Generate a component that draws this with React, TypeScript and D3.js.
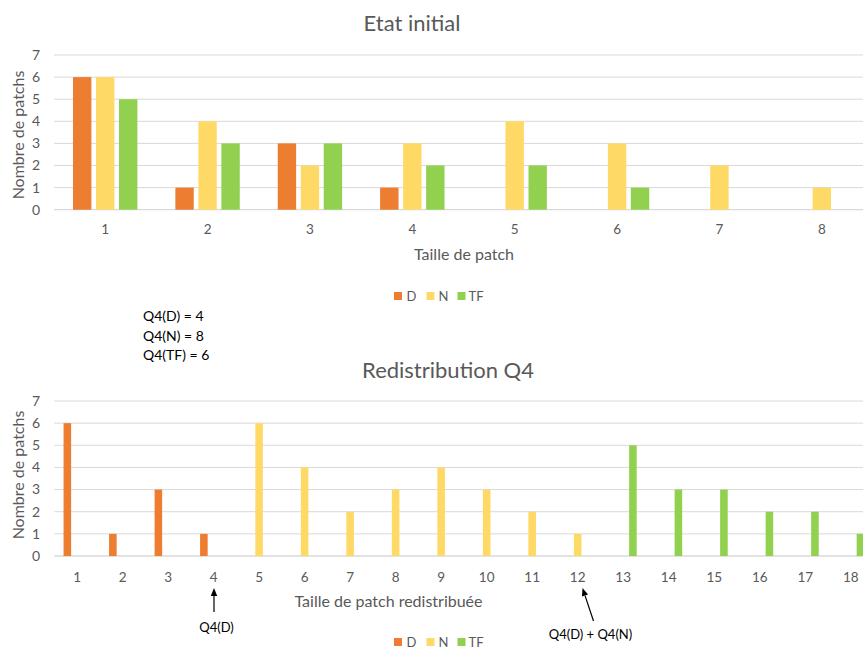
import React from 'react';
import * as d3 from 'd3';

// Series shared by both panels
const seriesNames = ['D', 'N', 'TF'];
const seriesColors = ['#ED7D31', '#FFD966', '#92D050'];

// Panel 1: initial state
const initialSizes = ['1', '2', '3', '4', '5', '6', '7', '8'];
const initialD = [6, 1, 3, 1, 0, 0, 0, 0];
const initialN = [6, 4, 2, 3, 4, 3, 2, 1];
const initialTF = [5, 3, 3, 2, 2, 1, 0, 0];

// Panel 2: Q4 redistribution
const redistSizes = ['1', '2', '3', '4', '5', '6', '7', '8', '9', '10', '11', '12', '13', '14', '15', '16', '17', '18'];
const redistD = [6, 1, 3, 1, 0, 0, 0, 0, 0, 0, 0, 0, 0, 0, 0, 0, 0, 0];
const redistN = [0, 0, 0, 0, 6, 4, 2, 3, 4, 3, 2, 1, 0, 0, 0, 0, 0, 0];
const redistTF = [0, 0, 0, 0, 0, 0, 0, 0, 0, 0, 0, 0, 5, 3, 3, 2, 2, 1];

const yTicks = [0, 1, 2, 3, 4, 5, 6, 7];
const q4Lines = ['Q4(D) = 4', 'Q4(N) = 8', 'Q4(TF) = 6'];

const FONT = 'Lato, "Open Sans", sans-serif';
const AXIS_GRAY = '#595959';
const GRID = '#D9D9D9';

type PanelProps = {
  categories: string[];
  series: number[][];
  top: number;
  bottom: number;
  left: number;
  right: number;
  groupFrac: number;
  barPad: number;
  title: string;
  titleX: number;
  titleY: number;
  xTitle: string;
  xTitleX: number;
  xTitleY: number;
  xLabelY: number;
  yTitleY: number;
  legendY: number;
};

function Legend({ y }: { y: number }) {
  const items = [
    { sq: 394, tx: 406.5 },
    { sq: 426.5, tx: 438.5 },
    { sq: 457.5, tx: 468.5 },
  ];
  return (
    <g>
      {seriesNames.map((name, i) => (
        <g key={name}>
          <rect x={items[i].sq} y={y - 4} width={8} height={8} fill={seriesColors[i]} />
          <text x={items[i].tx} y={y} dy="0.35em" fontSize={13} fill={AXIS_GRAY} fontFamily={FONT}>
            {name}
          </text>
        </g>
      ))}
    </g>
  );
}

function BarPanel(p: PanelProps) {
  const x0 = d3.scaleBand<string>().domain(p.categories).range([p.left, p.right]).padding(0);
  const groupW = x0.bandwidth() * p.groupFrac;
  const x1 = d3
    .scaleBand<string>()
    .domain(seriesNames)
    .range([-groupW / 2, groupW / 2])
    .paddingInner(p.barPad)
    .paddingOuter(p.barPad / 2);
  const y = d3.scaleLinear().domain([0, 7]).range([p.bottom, p.top]);

  return (
    <g>
      <text
        x={p.titleX}
        y={p.titleY}
        dy="0.35em"
        textAnchor="middle"
        fontSize={22}
        fill={AXIS_GRAY}
        fontFamily={FONT}
      >
        {p.title}
      </text>
      {yTicks.map((t) => (
        <g key={t}>
          <line x1={p.left} x2={p.right} y1={y(t)} y2={y(t)} stroke={GRID} strokeWidth={t === 0 ? 1.3 : 1} />
          <text
            x={40}
            y={y(t)}
            dy="0.35em"
            textAnchor="end"
            fontSize={14}
            fill={AXIS_GRAY}
            fontFamily={FONT}
          >
            {t}
          </text>
        </g>
      ))}
      {p.categories.map((c, ci) => {
        const cx = (x0(c) as number) + x0.bandwidth() / 2;
        return (
          <g key={c}>
            {p.series.map((vals, si) => {
              const v = vals[ci];
              if (!v) return null;
              return (
                <rect
                  key={si}
                  x={cx + (x1(seriesNames[si]) as number)}
                  y={y(v)}
                  width={x1.bandwidth()}
                  height={y(0) - y(v)}
                  fill={seriesColors[si]}
                />
              );
            })}
            <text
              x={cx}
              y={p.xLabelY}
              dy="0.35em"
              textAnchor="middle"
              fontSize={13.5}
              fill={AXIS_GRAY}
              fontFamily={FONT}
            >
              {c}
            </text>
          </g>
        );
      })}
      <text
        x={p.xTitleX}
        y={p.xTitleY}
        dy="0.35em"
        textAnchor="middle"
        fontSize={16}
        fill={AXIS_GRAY}
        fontFamily={FONT}
      >
        {p.xTitle}
      </text>
      <text
        transform={`translate(18,${p.yTitleY}) rotate(-90)`}
        dy="0.35em"
        textAnchor="middle"
        fontSize={16}
        fill={AXIS_GRAY}
        fontFamily={FONT}
      >
        Nombre de patchs
      </text>
      <Legend y={p.legendY} />
    </g>
  );
}

function Arrow({ x1, y1, x2, y2 }: { x1: number; y1: number; x2: number; y2: number }) {
  const ang = Math.atan2(y2 - y1, x2 - x1);
  const len = 8;
  const half = 3.2;
  const bx = x2 - len * Math.cos(ang);
  const by = y2 - len * Math.sin(ang);
  const px = -Math.sin(ang) * half;
  const py = Math.cos(ang) * half;
  return (
    <g>
      <line x1={x1} y1={y1} x2={bx} y2={by} stroke="#000" strokeWidth={1.2} />
      <path d={`M${x2},${y2}L${bx + px},${by + py}L${bx - px},${by - py}Z`} fill="#000" />
    </g>
  );
}

export default function App() {
  return (
    <svg
      width={863}
      height={651}
      style={{ position: 'absolute', left: 0, top: 0, background: '#fff' }}
    >
      <rect width={863} height={651} fill="#fff" />
      <BarPanel
        categories={initialSizes}
        series={[initialD, initialN, initialTF]}
        top={55}
        bottom={209.7}
        left={54}
        right={873}
        groupFrac={0.674}
        barPad={0.2}
        title="Etat initial"
        titleX={412}
        titleY={23}
        xTitle="Taille de patch"
        xTitleX={464}
        xTitleY={254}
        xLabelY={229}
        yTitleY={135}
        legendY={296}
      />
      <BarPanel
        categories={redistSizes}
        series={[redistD, redistN, redistTF]}
        top={401}
        bottom={556}
        left={54.3}
        right={873.5}
        groupFrac={0.64}
        barPad={0.22}
        title="Redistribution Q4"
        titleX={448}
        titleY={370.5}
        xTitle="Taille de patch redistribuée"
        xTitleX={388.5}
        xTitleY={601.5}
        xLabelY={577.5}
        yTitleY={475}
        legendY={642}
      />
      {q4Lines.map((t, i) => (
        <text key={t} x={143} y={316 + i * 19.7} dy="0.35em" fontSize={14} fill="#000" fontFamily={FONT}>
          {t}
        </text>
      ))}
      <Arrow x1={214} y1={612} x2={214} y2={588} />
      <text x={216.5} y={627} dy="0.35em" textAnchor="middle" fontSize={13} fill="#000" fontFamily={FONT}>
        Q4(D)
      </text>
      <Arrow x1={593.5} y1={621} x2={582.5} y2={588} />
      <text x={590.5} y={634} dy="0.35em" textAnchor="middle" fontSize={13} fill="#000" fontFamily={FONT}>
        Q4(D) + Q4(N)
      </text>
    </svg>
  );
}
